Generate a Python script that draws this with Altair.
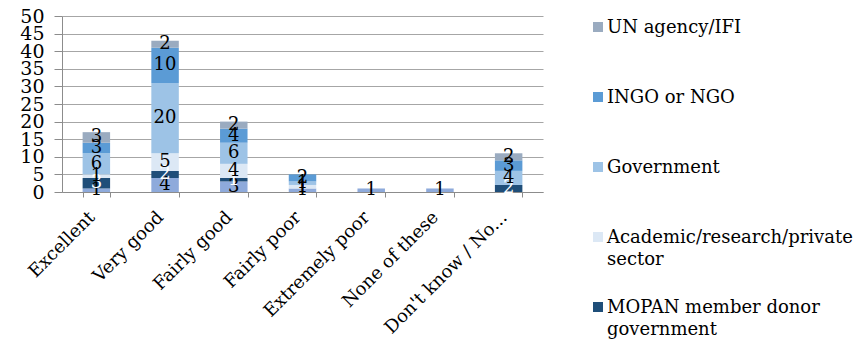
import altair as alt
import pandas as pd

categories = ["Excellent", "Very good", "Fairly good", "Fairly poor",
              "Extremely poor", "None of these", "Don't know / No..."]
# stacking order, bottom to top
series = ["Other", "MOPAN member donor government",
          "Academic/research/private sector", "Government",
          "INGO or NGO", "UN agency/IFI"]
other = [1, 4, 3, 1, 1, 1, 0]
mopan = [3, 2, 1, 0, 0, 0, 2]
academic = [1, 5, 4, 1, 0, 0, 0]
government = [6, 20, 6, 1, 0, 0, 4]
ingo = [3, 10, 4, 2, 0, 0, 3]
un = [3, 2, 2, 0, 0, 0, 2]
colors = ["#8eaadb", "#1f4e79", "#dce8f5", "#9dc3e6", "#5b9bd5", "#9aabc0"]
y_ticks = [0, 5, 10, 15, 20, 25, 30, 35, 40, 45, 50]

legend_order = ["UN agency/IFI", "INGO or NGO", "Government",
                "Academic/research/private sector", "MOPAN member donor government"]
legend_text = ["UN agency/IFI", "INGO or NGO", "Government",
               "Academic/research/private\nsector", "MOPAN member donor\ngovernment"]

FONT = "DejaVu Serif"
FS = 18

rows = []
for si, (name, vals) in enumerate(zip(series, [other, mopan, academic, government, ingo, un])):
    for c, v in zip(categories, vals):
        if v > 0:
            rows.append({"category": c, "series": name, "value": v, "order": si})
df = pd.DataFrame(rows)

leg_df = pd.DataFrame({"series": legend_order, "label": legend_text})

color_scale = alt.Scale(domain=series, range=colors)
x_scale = alt.Scale(paddingInner=0.6, paddingOuter=0.3)
x_axis = alt.Axis(labelAngle=-45, labelFont=FONT, labelFontSize=FS,
                  labelColor="#000", domainColor="#8c8c8c", tickColor="#8c8c8c",
                  tickSize=5, tickBand="extent", labelPadding=11, labelOffset=-11,
                  grid=False)
y_scale = alt.Scale(domain=[0, 50], nice=False)
y_axis = alt.Axis(values=y_ticks, labelFont=FONT, labelFontSize=19,
                  labelOverlap=False, labelFlush=False,
                  labelBaseline="alphabetic", labelOffset=6,
                  labelColor="#000", domainColor="#8c8c8c", tickColor="#8c8c8c",
                  gridColor="#a6a6a6", tickSize=8, labelPadding=10)

bars = alt.Chart(df).mark_bar().encode(
    x=alt.X("category:N", sort=categories, title=None, scale=x_scale, axis=x_axis),
    y=alt.Y("value:Q", stack="zero", scale=y_scale, title=None, axis=y_axis),
    color=alt.Color("series:N", scale=color_scale, legend=None),
    order=alt.Order("order:Q"),
)

labels = alt.Chart(df).transform_stack(
    stack="value", groupby=["category"], sort=[alt.SortField("order")], as_=["y0", "y1"]
).transform_calculate(
    mid="(datum.y0 + datum.y1) / 2"
).mark_text(font=FONT, fontSize=FS, baseline="middle").encode(
    x=alt.X("category:N", sort=categories, title=None, scale=x_scale, axis=x_axis),
    y=alt.Y("mid:Q", scale=y_scale, title=None, axis=y_axis),
    text=alt.Text("value:Q"),
    color=alt.condition(alt.datum.series == "MOPAN member donor government",
                        alt.value("#ffffff"), alt.value("#000000")),
)

leg_y = alt.Y("series:N", sort=legend_order, axis=None,
              scale=alt.Scale(type="point", domain=legend_order, range=[11, 291], padding=0))
leg_sw = alt.Chart(leg_df).mark_square(size=100, opacity=1).encode(
    x=alt.value(536), y=leg_y,
    color=alt.Color("series:N", scale=color_scale, legend=None),
)
leg_tx = alt.Chart(leg_df).mark_text(font=FONT, fontSize=FS, align="left",
                                     baseline="alphabetic", dy=6, lineBreak="\n",
                                     lineHeight=22, color="#000").encode(
    x=alt.value(545), y=leg_y, text="label:N",
)

main = alt.layer(bars, labels)
legend = alt.layer(leg_sw, leg_tx)

chart = alt.layer(main, legend).resolve_scale(y="independent").properties(
    width=481, height=176,
    autosize=alt.AutoSizeParams(type="none"),
    padding={"left": 54, "top": 8, "right": 315, "bottom": 147},
).configure(font=FONT).configure_text(font=FONT).configure_view(stroke=None)

chart.save("out.html", embed_options={"renderer": "svg", "actions": False})
